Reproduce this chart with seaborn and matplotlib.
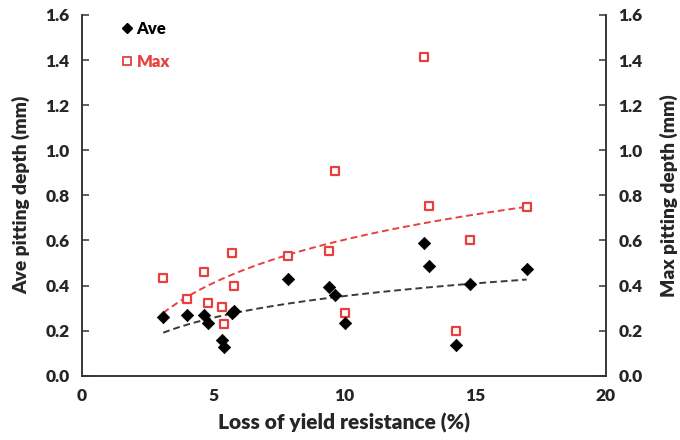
import numpy as np
import pandas as pd
import matplotlib
matplotlib.use("Agg")
import matplotlib.pyplot as plt
from matplotlib.lines import Line2D
import seaborn as sns

# Loss of yield resistance (%) for each specimen
loss_yield = [3.10, 4.02, 4.66, 4.79, 5.36, 5.43, 5.71, 5.80, 7.88,
              9.41, 9.64, 10.02, 13.04, 13.24, 14.26, 14.80, 16.97]
# Average pitting depth (mm)
ave_depth = [0.262, 0.271, 0.269, 0.235, 0.158, 0.126, 0.277, 0.287, 0.428,
             0.395, 0.359, 0.235, 0.587, 0.487, 0.135, 0.407, 0.473]
# Maximum pitting depth (mm)
max_depth = [0.432, 0.340, 0.461, 0.321, 0.303, 0.228, 0.544, 0.399, 0.532,
             0.555, 0.909, 0.280, 1.414, 0.753, 0.198, 0.602, 0.750]

y_ticks = [0.0, 0.2, 0.4, 0.6, 0.8, 1.0, 1.2, 1.4, 1.6]
x_ticks = [0, 5, 10, 15, 20]

RED = "#e8403f"
GREY = "#3a3a3a"
WEIGHT = "heavy"

sns.set_style("white")
plt.rcParams["font.family"] = ["Lato", "DejaVu Sans"]
plt.rcParams["font.weight"] = WEIGHT

df = pd.DataFrame({"loss": loss_yield, "ave": ave_depth, "max": max_depth})

# logarithmic trend lines y = a*ln(x) + b
xs = np.linspace(min(loss_yield), max(loss_yield), 200)
a_ave, b_ave = np.polyfit(np.log(df["loss"]), df["ave"], 1)
a_max, b_max = np.polyfit(np.log(df["loss"]), df["max"], 1)
trend = pd.DataFrame({"x": xs,
                      "ave": a_ave * np.log(xs) + b_ave,
                      "max": a_max * np.log(xs) + b_max})

fig = plt.figure(figsize=(6.8, 4.4), dpi=100)
ax = fig.add_axes([0.1206, 0.146, 0.7706, 0.82])

sns.lineplot(data=trend, x="x", y="max", ax=ax, color=RED, lw=1.4,
             dashes=False, linestyle=(0, (3.5, 2)), zorder=2)
sns.lineplot(data=trend, x="x", y="ave", ax=ax, color=GREY, lw=1.4,
             dashes=False, linestyle=(0, (3.5, 2)), zorder=2)
sns.scatterplot(data=df, x="loss", y="max", ax=ax, marker="s", s=40,
                facecolor="white", edgecolor=RED, linewidth=1.6, zorder=3)
sns.scatterplot(data=df, x="loss", y="ave", ax=ax, marker="D", s=40,
                color="black", edgecolor="black", linewidth=0.5, zorder=4)

ax.set_xlim(0, 20)
ax.set_ylim(0, 1.6)
ax.set_xticks(x_ticks)
ax.set_yticks(y_ticks)
ax.set_yticklabels([f"{v:.1f}" for v in y_ticks])
ax.set_xlabel("Loss of yield resistance (%)", fontsize=15, fontweight=WEIGHT, labelpad=6)
ax.set_ylabel("Ave pitting depth (mm)", fontsize=13.8, fontweight=WEIGHT, labelpad=11)

ax2 = ax.twinx()
ax2.set_ylim(0, 1.6)
ax2.set_yticks(y_ticks)
ax2.set_yticklabels([f"{v:.1f}" for v in y_ticks])
ax2.set_ylabel("Max pitting depth (mm)", fontsize=13.8, fontweight=WEIGHT, labelpad=12)

for a in (ax, ax2):
    a.spines["top"].set_visible(False)
    for side in ("left", "right", "bottom"):
        a.spines[side].set_color("#333333")
        a.spines[side].set_linewidth(1.1)
    a.tick_params(direction="in", length=5, width=1.1, color="#333333",
                  labelsize=12.5, pad=9)
    for lbl in a.get_xticklabels() + a.get_yticklabels():
        lbl.set_fontweight(WEIGHT)

handles = [
    Line2D([], [], marker="D", ls="none", color="black", markersize=5),
    Line2D([], [], marker="s", ls="none", markerfacecolor="white",
           markeredgecolor=RED, markeredgewidth=1.3, markersize=5.5),
]
leg = ax.legend(handles, ["Ave", "Max"], loc="upper left",
                bbox_to_anchor=(0.045, 1.025), frameon=False, handletextpad=0.15,
                handlelength=0.8, labelspacing=1.0,
                prop={"weight": WEIGHT, "size": 12})
leg.get_texts()[0].set_color("black")
leg.get_texts()[1].set_color(RED)

fig.savefig("out.png", dpi=100)
